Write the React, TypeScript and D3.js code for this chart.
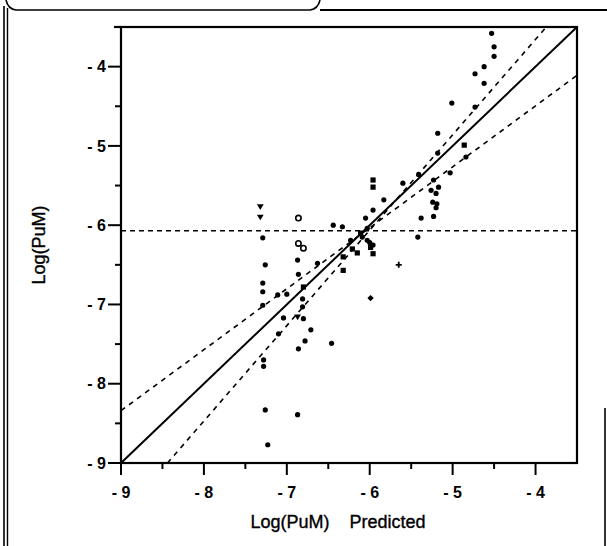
import React from "react";
import * as d3 from "d3";

const W = 607;
const H = 546;

const xDomain: [number, number] = [-9, -3.5];
const yDomain: [number, number] = [-9, -3.5];
const xTicks = [-9, -8, -7, -6, -5, -4];
const yTicks = [-4, -5, -6, -7, -8, -9];
const minorTicks = [-8.5, -7.5, -6.5, -5.5, -4.5, -3.5];
const tickLabel = (v: number) => "- " + Math.abs(v);

const xTitle = "Log(PuM)    Predicted";
const yTitle = "Log(PuM)";

// observed vs predicted points
const pointX = [
  -7.32, -7.32, -7.29, -7.26, -7.29, -7.29, -7.29, -7.11, -7.0, -7.04, -7.1, -7.28, -7.28,
  -6.86, -6.86, -6.8, -6.87, -6.86, -6.8, -6.81, -6.81, -6.87, -6.8, -6.71, -6.78, -6.86,
  -6.46, -6.63, -6.32, -6.32, -6.44, -6.33, -6.23, -6.21, -6.09, -6.05, -5.96, -5.96, -5.96,
  -5.99, -5.96, -5.99, -6.03, -7.26, -6.87, -7.23,
  -4.53, -4.5, -4.5, -4.62, -4.73, -4.62, -5.01, -4.73, -5.18, -5.18, -4.86, -4.84, -5.03,
  -5.41, -5.6, -5.83, -5.23, -5.26, -5.2, -5.17, -5.24, -5.19, -5.2, -5.23, -5.38, -5.42,
  -6.11, -6.03, -5.96, -5.65, -6.15, -6.0,
];
const pointY = [
  -5.77, -5.9, -6.16, -6.5, -6.73, -6.84, -7.01, -6.88, -6.87, -7.17, -7.37, -7.7, -7.78,
  -5.91, -6.23, -6.29, -6.44, -6.62, -6.78, -6.93, -7.03, -7.16, -7.18, -7.32, -7.46, -7.56,
  -7.49, -6.48, -6.4, -6.57, -6.0, -6.02, -6.19, -6.3, -6.15, -5.91, -5.81, -5.43, -5.52,
  -6.28, -6.36, -6.92, -6.04, -8.33, -8.39, -8.77,
  -3.58, -3.75, -3.87, -4.0, -4.09, -4.21, -4.46, -4.51, -4.84, -5.09, -4.99, -5.14, -5.34,
  -5.36, -5.47, -5.68, -5.43, -5.56, -5.6, -5.52, -5.71, -5.73, -5.78, -5.89, -5.91, -6.15,
  -6.1, -6.19, -6.25, -6.5, -6.35, -6.22,
];
const pointShape = [
  "tri", "tri", "dot", "dot", "dot", "dot", "dot", "dot", "dot", "dot", "dot", "dot", "dot",
  "ring", "ring", "ring", "dot", "dot", "square", "dot", "dot", "tri", "dot", "dot", "dot", "dot",
  "dot", "dot", "square", "square", "dot", "dot", "dot", "square", "dot", "dot", "dot", "square", "square",
  "square", "square", "diamond", "dot", "dot", "dot", "dot",
  "dot", "dot", "dot", "dot", "dot", "dot", "dot", "dot", "dot", "dot", "square", "dot", "dot",
  "dot", "dot", "dot", "dot", "dot", "dot", "dot", "dot", "dot", "dot", "dot", "dot", "dot",
  "square", "dot", "dot", "plus", "square", "dot",
];

// reference lines (data units)
const identityLine: [number, number][] = [[-9, -9], [-3.5, -3.5]];
const flatBand: [number, number][] = [[-9, -8.34], [-3.5, -4.11]];
const steepBand: [number, number][] = [[-8.44, -9], [-3.87, -3.5]];
const thresholdY = -6.07;

const FONT = "'Liberation Sans', Arial, sans-serif";

export default function App() {
  const left = 121, right = 577, top = 27, bottom = 463;
  const x = d3.scaleLinear().domain(xDomain).range([left, right]);
  const y = d3.scaleLinear().domain(yDomain).range([bottom, top]);
  const line = d3.line<[number, number]>().x((d) => x(d[0])).y((d) => y(d[1]));

  const marker = (i: number) => {
    const cx = x(pointX[i]);
    const cy = y(pointY[i]);
    const s = pointShape[i];
    if (s === "tri")
      return <path key={i} d={`M${cx - 3.4},${cy - 2.6}L${cx + 3.4},${cy - 2.6}L${cx},${cy + 3}Z`} fill="#000" />;
    if (s === "ring")
      return <circle key={i} cx={cx} cy={cy} r={2.7} fill="#fff" stroke="#000" strokeWidth={1.6} />;
    if (s === "square")
      return <rect key={i} x={cx - 2.6} y={cy - 2.6} width={5.2} height={5.2} fill="#000" />;
    if (s === "diamond")
      return <path key={i} d={`M${cx},${cy - 3.2}L${cx + 3.2},${cy}L${cx},${cy + 3.2}L${cx - 3.2},${cy}Z`} fill="#000" />;
    if (s === "plus")
      return (
        <path key={i} d={`M${cx - 3},${cy}H${cx + 3}M${cx},${cy - 3}V${cy + 3}`} stroke="#000" strokeWidth={1.8} />
      );
    return <circle key={i} cx={cx} cy={cy} r={2.6} fill="#000" />;
  };

  return (
    <svg
      width={W}
      height={H}
      style={{ position: "absolute", left: 0, top: 0, background: "#fff" }}
      fontFamily={FONT}
    >
      <rect x={0} y={0} width={W} height={H} fill="#fff" />
      {/* page frame (scan) */}
      <path d="M6,0 Q8,9 16,10 L310,10 Q318,9 320,0" fill="none" stroke="#000" strokeWidth={1.6} />
      <line x1={320} y1={10} x2={607} y2={10} stroke="#000" strokeWidth={2} />
      <line x1={4} y1={6} x2={4} y2={546} stroke="#000" strokeWidth={1.6} />
      <line x1={7.5} y1={8} x2={7.5} y2={546} stroke="#000" strokeWidth={1.4} />
      <line x1={605} y1={408} x2={605} y2={546} stroke="#000" strokeWidth={1.6} />

      {/* threshold */}
      <line
        x1={left}
        x2={right}
        y1={y(thresholdY)}
        y2={y(thresholdY)}
        stroke="#000"
        strokeWidth={1.5}
        strokeDasharray="5,4"
      />
      {/* bands */}
      <path d={line(flatBand) || ""} stroke="#000" strokeWidth={1.6} strokeDasharray="5,5" fill="none" />
      <path d={line(steepBand) || ""} stroke="#000" strokeWidth={1.6} strokeDasharray="5,5" fill="none" />
      {/* identity */}
      <path d={line(identityLine) || ""} stroke="#000" strokeWidth={2} fill="none" />

      {/* points */}
      {pointX.map((_, i) => marker(i))}

      {/* frame */}
      <rect x={left} y={top} width={right - left} height={bottom - top} fill="none" stroke="#000" strokeWidth={2.2} />
      <line x1={left - 7} x2={left} y1={top} y2={top} stroke="#000" strokeWidth={2.2} />

      {/* y axis */}
      {yTicks.map((t) => (
        <g key={"y" + t}>
          <line x1={left - 13} x2={left} y1={y(t)} y2={y(t)} stroke="#000" strokeWidth={2} />
          <text x={left - 15} y={y(t)} dy="0.36em" textAnchor="end" fontSize={16} fontWeight="bold">
            {tickLabel(t)}
          </text>
        </g>
      ))}
      {minorTicks.map((t) => (
        <line key={"ym" + t} x1={left - 6} x2={left} y1={y(t)} y2={y(t)} stroke="#000" strokeWidth={2} />
      ))}
      {/* x axis */}
      {xTicks.map((t) => (
        <g key={"x" + t}>
          <line x1={x(t)} x2={x(t)} y1={bottom} y2={bottom + 12} stroke="#000" strokeWidth={2} />
          <text x={x(t)} y={bottom + 35} textAnchor="middle" fontSize={16} fontWeight="bold">
            {tickLabel(t)}
          </text>
        </g>
      ))}
      {minorTicks.slice(0, 5).map((t) => (
        <line key={"xm" + t} x1={x(t)} x2={x(t)} y1={bottom} y2={bottom + 6} stroke="#000" strokeWidth={2} />
      ))}

      <text
        x={(left + right) / 2 - 11}
        y={bottom + 65}
        textAnchor="middle"
        fontSize={18}
        stroke="#000"
        strokeWidth={0.35}
        style={{ whiteSpace: "pre" }}
      >
        {xTitle}
      </text>
      <text
        transform={`translate(45,${(top + bottom) / 2}) rotate(-90)`}
        textAnchor="middle"
        fontSize={18}
        stroke="#000"
        strokeWidth={0.35}
      >
        {yTitle}
      </text>
    </svg>
  );
}
